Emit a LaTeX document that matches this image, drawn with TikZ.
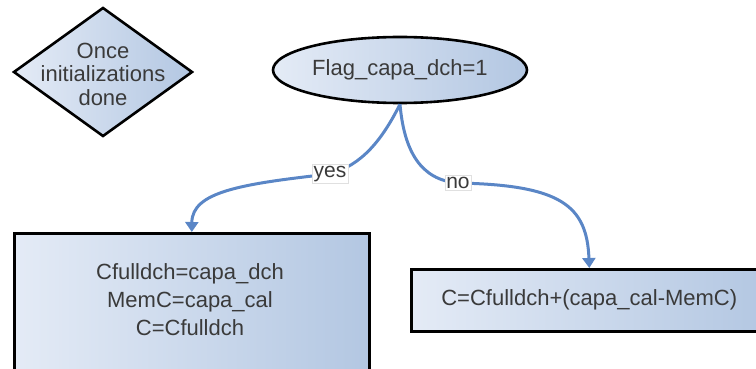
\documentclass[tikz,border=0pt]{standalone}
\usepackage{fontspec}
\setmainfont{Liberation Sans}
\usetikzlibrary{shapes.geometric,arrows.meta}
\definecolor{txt}{HTML}{3A3A3A}
\definecolor{arr}{HTML}{5A86C6}
\definecolor{lightfill}{HTML}{E4EBF6}
\definecolor{darkfill}{HTML}{B3C7E2}
\tikzset{
  shapefill/.style={draw=black, line width=2.6pt, left color=lightfill, right color=darkfill},
  boxtext/.style={text=txt, font=\fontsize{22}{28}\selectfont, align=center},
  conn/.style={draw=arr, line width=3pt, -{Triangle[width=13pt,length=10pt]}},
  lab/.style={draw=black!12, line width=0.6pt, fill=white, text=txt, inner sep=1.5pt, font=\fontsize{21}{24}\selectfont}
}
\begin{document}
\begin{tikzpicture}[x=1pt,y=-1pt]
\useasboundingbox (0,0) rectangle (756,369);
% diamond
\draw[shapefill] (14,72) -- (103,8) -- (192,72) -- (103,136) -- cycle;
\node[boxtext, font=\fontsize{22}{23.5}\selectfont] (init) at (103,74) {Once\\initializations\\done};
% ellipse
\node[ellipse, shapefill, minimum width=254pt, minimum height=66pt, inner sep=0pt, boxtext] (ell) at (400,70) {Flag\_capa\_dch=1};
% boxes
\node[shapefill, anchor=north west, minimum width=355pt, minimum height=142pt, inner sep=0pt] (lb) at (13,232) {};
\node[boxtext] (lbt) at (190,300) {Cfulldch=capa\_dch\\MemC=capa\_cal\\C=Cfulldch};
\node[shapefill, anchor=north west, minimum width=356pt, minimum height=62pt, inner sep=0pt, boxtext] (rb) at (410,268) {C=Cfulldch+(capa\_cal-MemC)};
% connectors
\draw[conn] (ell.south) .. controls (382,140) and (362,165) .. (330,174) node[lab] (yes) {yes}
  .. controls (240,184) and (192,192) .. (lb.north);
\draw[conn] (ell.south) .. controls (404,150) and (420,180) .. (458,183) node[lab] (no) {no}
  .. controls (560,185) and (587,205) .. (rb.north);
\end{tikzpicture}
\end{document}
